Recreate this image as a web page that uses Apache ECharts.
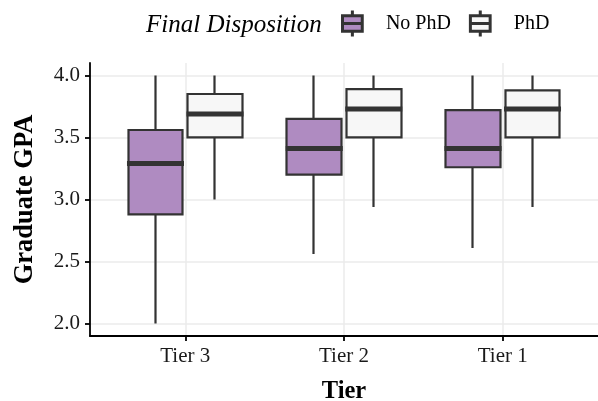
<!DOCTYPE html>
<html>
<head>
<meta charset="utf-8">
<script src="https://cdn.jsdelivr.net/npm/echarts@6/dist/echarts.min.js"></script>
<style>html,body{margin:0;padding:0;background:#fff}#c{width:598px;height:401px}</style>
</head>
<body>
<div id="c"></div>
<script>
// ---- data ----
var tiers = ['Tier 3', 'Tier 2', 'Tier 1'];
var groups = ['No PhD', 'PhD'];
// [min, Q1, median, Q3, max]
var noPhD = [
  [2.00, 2.88, 3.29, 3.56, 4.00],
  [2.56, 3.20, 3.41, 3.65, 4.00],
  [2.61, 3.26, 3.41, 3.72, 4.00]
];
var phd = [
  [3.00, 3.50, 3.69, 3.85, 4.00],
  [2.94, 3.50, 3.73, 3.89, 4.00],
  [2.94, 3.50, 3.73, 3.88, 4.00]
];
var yTicks = [2.0, 2.5, 3.0, 3.5, 4.0];
var legendTitle = 'Final Disposition';
var xTitle = 'Tier';
var yTitle = 'Graduate GPA';

// ---- build ----
var FONT = '"Liberation Serif", "DejaVu Serif", serif';
var fills = ['#af8bc1', '#f7f7f7'];
var dark = '#333333';
var dodge = 0.1875;
var boxPx = 55;
var xPos = tiers.map(function (t, i) { return i + 1; });

// candlestick item: [x, open(Q1), close(Q3), lowest(min), highest(max)]
function boxData(vals, off) {
  return vals.map(function (v, i) { return [xPos[i] + off, v[1], v[3], v[0], v[4]]; });
}
function medData(vals, off) {
  return vals.map(function (v, i) { return [xPos[i] + off, v[2]]; });
}
var sets = [noPhD, phd];
var offs = [-dodge, dodge];

var series = [];
groups.forEach(function (g, k) {
  series.push({
    name: g, type: 'candlestick',
    barWidth: boxPx,
    itemStyle: { color: fills[k], color0: fills[k], borderColor: dark, borderColor0: dark, borderWidth: 2.2 },
    data: boxData(sets[k], offs[k]),
    z: 2
  });
});
groups.forEach(function (g, k) {
  series.push({
    name: 'median ' + g, type: 'scatter',
    symbol: 'rect', symbolSize: [boxPx + 2, 5],
    itemStyle: { color: dark, opacity: 1 }, silent: true,
    data: medData(sets[k], offs[k]),
    z: 3
  });
});

var iconPath = 'path://M10.5,0L10.5,5M1,5L20,5L20,20L1,20ZM1,12.5L20,12.5M10.5,20L10.5,25';

var option = {
  animation: false,
  backgroundColor: '#fff',
  title: {
    text: legendTitle, left: 141, top: 8,
    textStyle: { fontFamily: FONT, fontSize: 25, fontStyle: 'italic', fontWeight: 'normal', color: '#000' }
  },
  legend: {
    left: 336, top: 4, itemWidth: 23, itemHeight: 26, itemGap: 18,
    data: groups.map(function (g, k) {
      return { name: g, icon: iconPath,
        itemStyle: { color: fills[k], borderColor: dark, borderWidth: 3 } };
    }),
    textStyle: { fontFamily: FONT, fontSize: 20, color: '#000', padding: [0, 0, 0, 17] }
  },
  grid: { left: 90, right: 0, top: 63, bottom: 65, containLabel: false, outerBoundsMode: 'none' },
  xAxis: [{
    type: 'value', min: 0.4, max: 3.6,
    axisLine: { onZero: false, lineStyle: { color: '#000', width: 1.8 } },
    axisTick: { show: true, customValues: xPos, length: 5, lineStyle: { color: '#000', width: 1.8 } },
    axisLabel: { customValues: xPos, margin: 10, fontFamily: FONT, fontSize: 21, color: '#1a1a1a',
      formatter: function (v) { return tiers[Math.round(v) - 1] || ''; } },
    splitLine: { show: true, lineStyle: { color: '#ebebeb', width: 1.5 } },
    name: xTitle, nameLocation: 'middle', nameGap: 43,
    nameTextStyle: { fontFamily: FONT, fontSize: 24.5, fontWeight: 'bold', color: '#000' }
  }],
  yAxis: [{
    type: 'value', min: 1.9, max: 4.1,
    axisLine: { show: true, lineStyle: { color: '#000', width: 1.8 } },
    axisTick: { show: true, customValues: yTicks, length: 5, lineStyle: { color: '#000', width: 1.8 } },
    axisLabel: { customValues: yTicks, margin: 10, fontFamily: FONT, fontSize: 21, color: '#1a1a1a',
      formatter: function (v) { return v.toFixed(1); } },
    splitLine: { show: true, lineStyle: { color: '#ebebeb', width: 1.5 } },
    name: yTitle, nameLocation: 'middle', nameGap: 51, nameRotate: 90,
    nameTextStyle: { fontFamily: FONT, fontSize: 26.5, fontWeight: 'bold', color: '#000' }
  }],
  series: series
};
var chart = echarts.init(document.getElementById('c'), null, { renderer: 'canvas' });
chart.setOption(option);
</script>
</body>
</html>
